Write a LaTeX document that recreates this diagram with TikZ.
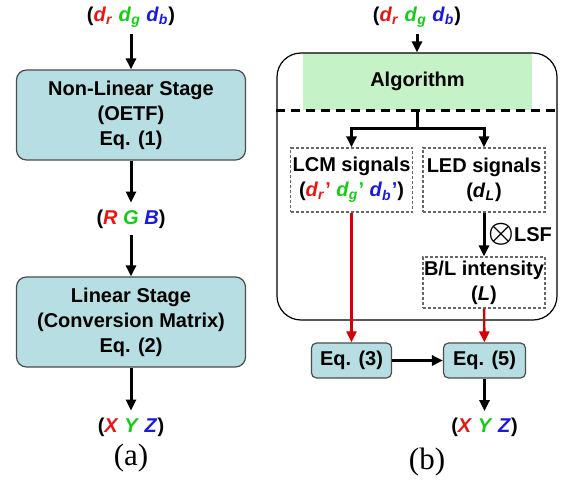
\documentclass[tikz,border=0pt]{standalone}
\usepackage{fontspec}
\setmainfont{Liberation Sans}
\newfontfamily\capfont{Liberation Serif}
\usepackage{amsmath}
\usepackage{tikz}
\usetikzlibrary{arrows.meta,calc}
\definecolor{dred}{RGB}{235,20,20}
\definecolor{dgreen}{RGB}{20,205,20}
\definecolor{dblue}{RGB}{25,25,225}
\definecolor{redline}{RGB}{215,0,0}
\definecolor{stagefill}{RGB}{183,222,226}
\definecolor{algofill}{RGB}{198,242,200}
\newcommand{\sig}[3]{\textcolor{#1}{\textit{#2}\textsubscript{\textit{#3}}}}
\DeclareRobustCommand{\lsfcross}{{\boldmath\Large$\otimes$}}
\tikzset{
    stage/.style={
           rectangle,
           rounded corners=5pt,
           draw=black!70, line width=0.6pt,
           fill=stagefill,
           inner sep=0pt,
           text centered,
           },
    signal/.style={
           rectangle,
           draw=black!60, line width=0.6pt,
           dash pattern=on 1.5pt off 1pt,
           inner sep=0.5pt,
           minimum width=61pt,
           text centered,
           },
    flow/.style={
           -{Triangle[length=5.5pt,width=5pt]},
           line width=1.5pt,
           },
    redflow/.style={
           flow, draw=redline, line width=1.2pt,
           },
}

\begin{document}
\begin{tikzpicture}[x=0.5pt, y=-0.5pt, font=\fontsize{10}{12.5}\selectfont\bfseries]
    \useasboundingbox (0,0) rectangle (562,487);

    % (a): two stages in a column
    \node[anchor=center] (ina) at (131,17)
    {(\sig{dred}{d}{r} \sig{dgreen}{d}{g} \sig{dblue}{d}{b})};

    \node[stage,        	% layout (defined above)
    minimum width=114.5pt, minimum height=45pt,
    align=center,
    below of=ina,
    node distance=49pt] (nonlin)
    {Non-Linear Stage\\(OETF)\\Eq. (1)};

    \node[below of=nonlin, node distance=52pt] (rgb)
    {(\textcolor{dred}{\textit{R}} \textcolor{dgreen}{\textit{G}} \textcolor{dblue}{\textit{B}})};

    \node[stage,        	% layout (defined above)
    minimum width=114.5pt, minimum height=45pt,
    align=center,
    below of=rgb,
    node distance=51.5pt] (lin)
    {Linear Stage\\(Conversion Matrix)\\Eq. (2)};

    \node[below of=lin, node distance=52.5pt] (xyza)
    {(\textcolor{dred}{\textit{X}} \textcolor{dgreen}{\textit{Y}} \textcolor{dblue}{\textit{Z}})};

    \node[font=\capfont\fontsize{15.5}{17}\selectfont] (capa) at (131,458) {(a)};

    \path
        (ina)    edge[flow] (nonlin)
        (nonlin) edge[flow] (rgb)
        (rgb)    edge[flow] (lin)
        (lin)    edge[flow] (xyza);

    % (b): algorithm block and the two signal paths
    \node[anchor=center] (inb) at (417,17)
    {(\sig{dred}{d}{r} \sig{dgreen}{d}{g} \sig{dblue}{d}{b})};

    \node[rectangle, fill=algofill,
    minimum width=114.5pt, minimum height=28.5pt,
    inner sep=0pt] (algo) at (417.5,81.5)
    {Algorithm};

    \node[rectangle, draw=black, line width=0.6pt,
    rounded corners=12pt,
    minimum width=140pt, minimum height=133.5pt] (frame) at (417,186.5) {};

    \draw[line width=1.3pt, dash pattern=on 4.5pt off 3pt]
        (frame.west |- algo.south) -- (frame.east |- algo.south);

    \node[signal,       	% layout (defined above)
    minimum height=32pt,
    align=center] (lcm) at (351.5,180)
    {LCM signals\\(\textcolor{dred}{\textit{d}\textsubscript{\textit{r}}'} \textcolor{dgreen}{\textit{d}\textsubscript{\textit{g}}'} \textcolor{dblue}{\textit{d}\textsubscript{\textit{b}}'})};

    \node[signal,       	% layout (defined above)
    minimum height=32pt,
    align=center,
    right of=lcm,
    node distance=66.25pt] (led)
    {LED signals\\(\textit{d}\textsubscript{\textit{L}})};

    \node[signal,       	% layout (defined above)
    minimum height=25.5pt,
    align=center,
    below of=led,
    node distance=51.25pt] (bl)
    {B/L intensity\\(\textit{L})};

    \node[stage,        	% layout (defined above)
    rounded corners=2.5pt,
    minimum width=40pt, minimum height=17.5pt,
    below of=lcm,
    node distance=90.25pt] (eqc)
    {Eq. (3)};

    \node[stage,        	% layout (defined above)
    rounded corners=2.5pt,
    minimum width=41pt, minimum height=17.5pt,
    right of=eqc,
    node distance=66.5pt] (eqe)
    {Eq. (5)};

    \node[below of=eqe, node distance=33.5pt] (xyzb)
    {(\textcolor{dred}{\textit{X}} \textcolor{dgreen}{\textit{Y}} \textcolor{dblue}{\textit{Z}})};

    \node[font=\capfont\fontsize{15.5}{17}\selectfont] (capb) at (427,462) {(b)};

    % fork below the algorithm
    \draw[line width=1.5pt] (algo.south) -- ++(0,18) coordinate (fork);
    \draw[flow] (fork) -| (lcm.north);
    \draw[flow] (fork) -| (led.north);

    % LSF label beside the LED arrow
    \node[right, inner sep=2pt] (lsf) at ($(led.south)!0.5!(bl.north)$) {\lsfcross LSF};

    \path
        (inb) edge[flow] (frame.north)
        (led) edge[flow] (bl)
        (lcm) edge[redflow] (eqc)
        (bl)  edge[redflow] (eqe)
        (eqc) edge[flow] (eqe)
        (eqe) edge[flow] (xyzb);
\end{tikzpicture}
\end{document}
